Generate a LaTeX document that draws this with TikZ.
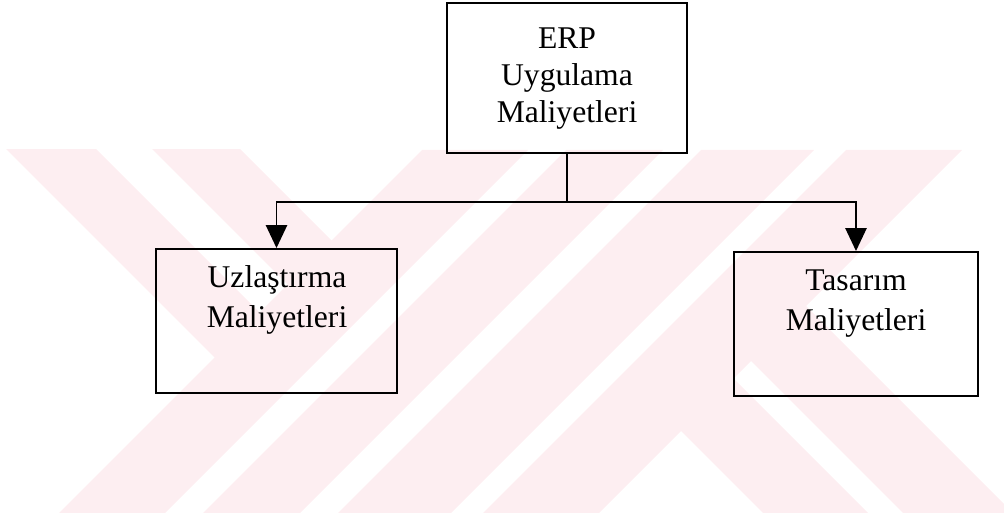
\documentclass[tikz,border=0pt]{standalone}
\usepackage{fontspec}
\setmainfont{Liberation Serif}
\usetikzlibrary{arrows.meta}
\definecolor{wmpink}{RGB}{253,238,241}
\begin{document}
\begin{tikzpicture}[x=0.02cm,y=-0.02cm,
  box/.style={draw, line width=1.1pt, rectangle, inner sep=0pt},
  lbl/.style={inner sep=0pt, anchor=base, font=\fontsize{18pt}{21.5pt}\selectfont},
  link/.style={line width=1.1pt},
  arr/.style={line width=1.1pt, -{Triangle[length=13pt,width=12pt]}},
  band/.style={fill=wmpink, draw=none}]
\useasboundingbox (0,0) rectangle (1004,513);

% background stripe pattern
\begin{scope}
  \clip (0,150) rectangle (1004,513);
  % rising stripes
  \fill[band] (422,150) -- (528,150) -- (165,513) -- (59,513) -- cycle;
  \fill[band] (566,150) -- (663,150) -- (300,513) -- (203,513) -- cycle;
  \fill[band] (701,150) -- (814,150) -- (451,513) -- (338,513) -- cycle;
  \fill[band] (846,150) -- (962,150) -- (599,513) -- (483,513) -- cycle;
  % falling stripes on the left
  \fill[band] (-50,93) -- (40,93) -- (273.5,326.5) -- (228.5,371.5) -- cycle;
  \fill[band] (103,100) -- (191,100) -- (345.5,254.5) -- (301.5,298.5) -- cycle;
  % falling stripes on the right
  \fill[band] (722.5,367.5) -- (670,420) -- (963,713) -- (1068,713) -- cycle;
  \fill[band] (795,295) -- (740,350) -- (1100,710) -- (1210,710) -- cycle;
\end{scope}

% boxes
\node[box, minimum width=4.8cm, minimum height=3cm] (erp) at (567,78) {};
\node[box, minimum width=4.82cm, minimum height=2.88cm] (uzl) at (276.5,321) {};
\node[box, minimum width=4.88cm, minimum height=2.88cm] (tas) at (856,324) {};

% labels
\node[lbl] (erpA) at (567,49) {ERP};
\node[lbl] (erpB) at (567,86) {Uygulama};
\node[lbl] (erpC) at (567,123) {Maliyetleri};
\node[lbl] (uzlA) at (277,288) {Uzlaştırma};
\node[lbl] (uzlB) at (277,327) {Maliyetleri};
\node[lbl] (tasA) at (856,291) {Tasarım};
\node[lbl] (tasB) at (856,330) {Maliyetleri};

% connectors
\coordinate (split) at (567,202);
\draw[link] (erp.south) -- (split);
\draw[arr] (split) -| (uzl.north);
\draw[arr] (split) -| (tas.north);
\end{tikzpicture}
\end{document}
